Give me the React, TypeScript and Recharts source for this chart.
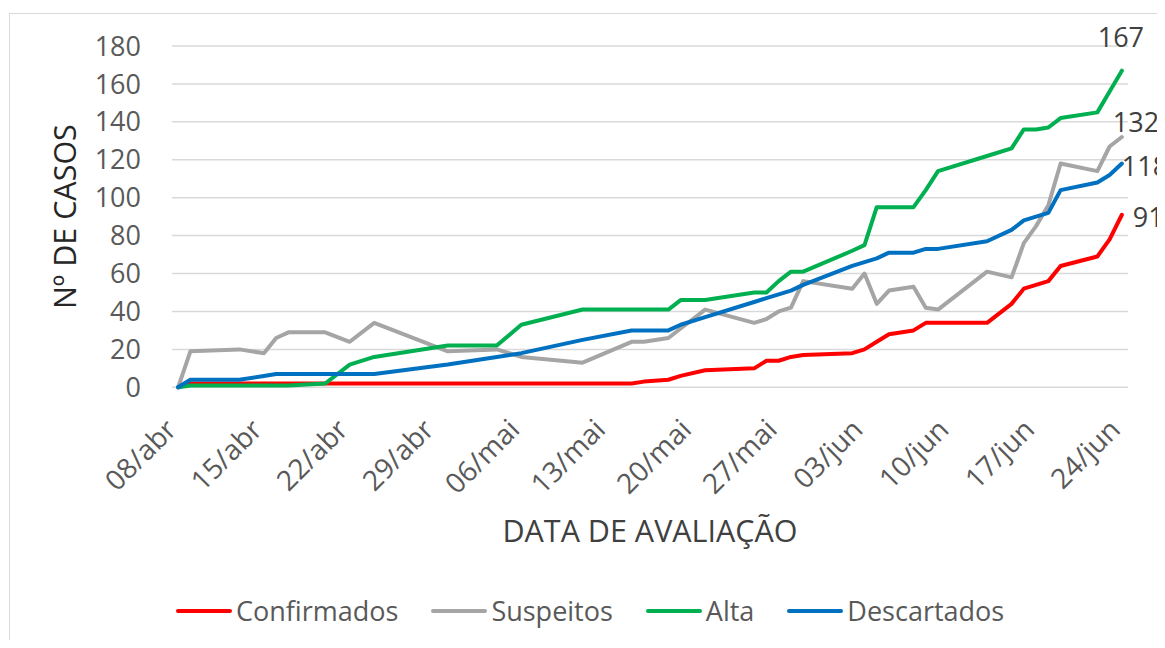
import React from 'react';
import { LineChart, Line, XAxis, YAxis, CartesianGrid, Legend, LabelList } from 'recharts';

// day index counted from 08/abr
const days = [0, 1, 5, 7, 8, 9, 12, 14, 16, 22, 26, 28, 33, 37, 38, 40, 41, 43, 47, 48, 49, 50, 51, 55, 56, 57, 58, 60, 61, 62, 66, 68, 69, 70, 71, 72, 75, 76, 77];
const confirmados = [0, 2, 2, 2, 2, 2, 2, 2, 2, 2, 2, 2, 2, 2, 3, 4, 6, 9, 10, 14, 14, 16, 17, 18, 20, 24, 28, 30, 34, 34, 34, 44, 52, 54, 56, 64, 69, 78, 91];
const suspeitos = [0, 19, 20, 18, 26, 29, 29, 24, 34, 19, 20, 16, 13, 24, 24, 26, 31, 41, 34, 36, 40, 42, 56, 52, 60, 44, 51, 53, 42, 41, 61, 58, 76, 85, 96, 118, 114, 127, 132];
const alta = [0, 1, 1, 1, 1, 1, 2, 12, 16, 22, 22, 33, 41, 41, 41, 41, 46, 46, 50, 50, 56, 61, 61, 72, 75, 95, 95, 95, 104, 114, 122, 126, 136, 136, 137, 142, 145, 156, 167];
const descartados = [0, 4, 4, 6, 7, 7, 7, 7, 7, 12, 16, 18, 25, 30, 30, 30, 33, 37, 45, 47, 49, 51, 54, 64, 66, 68, 71, 71, 73, 73, 77, 83, 88, 90, 92, 104, 108, 112, 118];

const dateTicks = [0, 7, 14, 21, 28, 35, 42, 49, 56, 63, 70, 77];
const tickLabels = ['08/abr', '15/abr', '22/abr', '29/abr', '06/mai', '13/mai', '20/mai', '27/mai', '03/jun', '10/jun', '17/jun', '24/jun'];
const yTicks = [0, 20, 40, 60, 80, 100, 120, 140, 160, 180];

const seriesNames = ['Confirmados', 'Suspeitos', 'Alta', 'Descartados'];
const seriesColors = ['#FF0000', '#A5A5A5', '#00B050', '#0070C0'];

const data = days.map((d, i) => ({
  day: d,
  Confirmados: confirmados[i],
  Suspeitos: suspeitos[i],
  Alta: alta[i],
  Descartados: descartados[i],
}));

const FONT = '"Open Sans", sans-serif';
const LAST = days.length - 1;

const XTick = (props: any) => {
  const { x, y, payload } = props;
  const idx = dateTicks.indexOf(payload.value);
  const ax = x;
  const ay = y + 36;
  return (
    <text x={ax} y={ay} transform={`rotate(-45 ${ax} ${ay})`} textAnchor="end" fontSize={28} fill="#595959" fontFamily={FONT}>
      {tickLabels[idx]}
    </text>
  );
};

const makeEndLabel = (dx: number, dy: number, anchor: string) => (props: any) => {
  const { x, y, value, index } = props;
  if (index !== LAST) return null;
  return (
    <text x={x + dx} y={y + dy} dy="0.35em" textAnchor={anchor} fontSize={27} fill="#404040" fontFamily={FONT}>
      {value}
    </text>
  );
};

const LegendContent = () => (
  <div style={{ display: 'flex', alignItems: 'center', height: 30, fontFamily: FONT, fontSize: 27, color: '#595959' }}>
    {seriesNames.map((name, i) => (
      <div key={name} style={{ display: 'flex', alignItems: 'center', marginRight: 32 }}>
        <svg width={58} height={8} style={{ marginRight: 3 }}>
          <line x1={3} y1={4} x2={55} y2={4} stroke={seriesColors[i]} strokeWidth={4} strokeLinecap="round" />
        </svg>
        <span style={{ lineHeight: '30px' }}>{name}</span>
      </div>
    ))}
  </div>
);

const labelOffsets = [
  { dx: 11, dy: 3, anchor: 'start' },
  { dx: -9, dy: -14, anchor: 'start' },
  { dx: -1, dy: -33, anchor: 'middle' },
  { dx: 0, dy: 3, anchor: 'start' },
];

export default function App() {
  return (
    <div style={{ position: 'relative', width: 1157, height: 640, marginBottom: -8, overflow: 'hidden', background: '#fff' }}>
      <div style={{ position: 'absolute', left: 1, top: 5, width: 1300, height: 800, border: '1.5px solid #d9d9d9', boxSizing: 'border-box' }} />
      <div style={{ position: 'absolute', left: 0, top: 0 }}>
        <LineChart width={1157} height={632} data={data} margin={{ top: 38, right: 37, left: 0, bottom: 14 }}>
          <CartesianGrid vertical={false} stroke="#d9d9d9" strokeWidth={1.5} />
          <XAxis
            dataKey="day"
            type="number"
            domain={[-0.5, 77.5]}
            ticks={dateTicks}
            interval={0}
            tick={<XTick />}
            tickLine={false}
            axisLine={false}
            height={208.7}
            label={(p: any) => {
              const vb = p.viewBox;
              return (
                <text x={vb.x + vb.width / 2} y={523} dy="0.35em" textAnchor="middle" fontSize={30.5} fill="#404040" fontFamily={FONT}>
                  DATA DE AVALIAÇÃO
                </text>
              );
            }}
          />
          <YAxis
            domain={[0, 180]}
            ticks={yTicks}
            interval={0}
            width={164}
            tickLine={false}
            axisLine={false}
            tickMargin={25}
            tick={{ fontSize: 27, fill: '#595959', fontFamily: FONT }}
            label={(p: any) => {
              const vb = p.viewBox;
              const cx = 57;
              const cy = vb.y + vb.height / 2;
              return (
                <text x={cx} y={cy} dy="0.35em" transform={`rotate(-90 ${cx} ${cy})`} textAnchor="middle" fontSize={30.5} fill="#262626" fontFamily={FONT}>
                  Nº DE CASOS
                </text>
              );
            }}
          />
          <Legend verticalAlign="bottom" height={30} wrapperStyle={{ left: 167, width: 980, bottom: 14 }} content={<LegendContent />} />
          {seriesNames.map((name, i) => (
            <Line
              key={name}
              type="linear"
              dataKey={name}
              stroke={seriesColors[i]}
              strokeWidth={4}
              dot={false}
              isAnimationActive={false}
              strokeLinejoin="round"
              strokeLinecap="round"
            >
              <LabelList dataKey={name} content={makeEndLabel(labelOffsets[i].dx, labelOffsets[i].dy, labelOffsets[i].anchor)} />
            </Line>
          ))}
        </LineChart>
      </div>
    </div>
  );
}
